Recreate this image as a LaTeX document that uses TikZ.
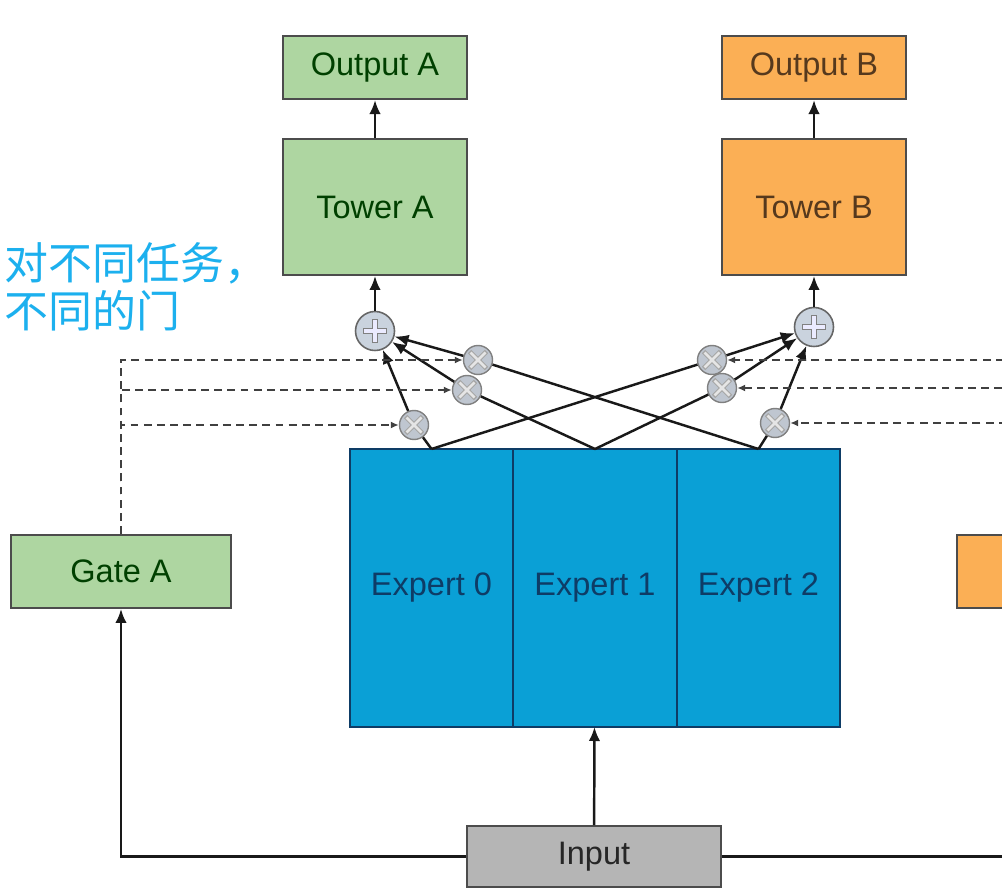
\documentclass[tikz,border=0pt]{standalone}
\usepackage{fontspec}
\setmainfont{Liberation Sans}
\newfontfamily\cjk{Noto Sans CJK SC}
\usepackage{xcolor}
\usetikzlibrary{arrows.meta, positioning}
\definecolor{boxgreen}{HTML}{AED6A1}
\definecolor{boxorange}{HTML}{FBAF55}
\definecolor{expblue}{HTML}{0AA0D6}
\definecolor{expline}{HTML}{0E3C66}
\definecolor{inpgray}{HTML}{B5B5B5}
\definecolor{notecyan}{HTML}{1CB0EE}
\definecolor{opfill}{HTML}{CAD3DE}
\tikzset{
    tsk/.style={draw=black!70, line width=1.1pt, align=center, font=\fontsize{18.5}{22}\selectfont,
                minimum width=3.68cm, inner sep=0pt},
    tska/.style={tsk, fill=boxgreen, text=green!25!black},
    tskb/.style={tsk, fill=boxorange, text=brown!45!black},
    expert/.style={draw=expline, line width=1.1pt, fill=expblue, text=expline, outer sep=0pt,
                   font=\fontsize{18.5}{22}\selectfont, minimum width=3.27cm, minimum height=5.56cm, inner sep=0pt},
    gate/.style={tsk, minimum width=4.4cm, minimum height=1.46cm},
    addop/.style={circle, draw=black!60, line width=0.9pt, fill=opfill, minimum size=7.8mm, inner sep=0pt,
                  path picture={
                      \draw[black!50, line width=3.8pt] (path picture bounding box.center) ++(-0.24,0) -- ++(0.48,0)
                          (path picture bounding box.center) ++(0,-0.24) -- ++(0,0.48);
                      \draw[white!92!blue, line width=2.2pt] (path picture bounding box.center) ++(-0.22,0) -- ++(0.44,0)
                          (path picture bounding box.center) ++(0,-0.22) -- ++(0,0.44);
                  }},
    mulop/.style={circle, draw=black!50, line width=0.8pt, fill=opfill!85!gray, minimum size=5.8mm, inner sep=0pt,
                  path picture={
                      \draw[black!35, line width=2.8pt] (path picture bounding box.center) ++(-0.17,-0.17) -- ++(0.34,0.34)
                          (path picture bounding box.center) ++(-0.17,0.17) -- ++(0.34,-0.34);
                      \draw[white!80!gray, line width=1.5pt] (path picture bounding box.center) ++(-0.15,-0.15) -- ++(0.3,0.3)
                          (path picture bounding box.center) ++(-0.15,0.15) -- ++(0.3,-0.3);
                  }},
    ln/.style={line width=1.4pt, black!90},
    arr/.style={-{Latex[length=2.8mm, width=2.3mm]}, line width=1.4pt, black!90},
    garr/.style={-{Latex[length=1.6mm, width=1.4mm]}, line width=0.9pt, black!75, dash pattern=on 4.5pt off 3pt},
    note/.style={font=\cjk\fontsize{25}{27.5}\selectfont, text=notecyan, align=left, inner sep=0pt},
}

\begin{document}
\begin{tikzpicture}[node distance=0.76cm]
    \useasboundingbox (0,0) rectangle (20.04,17.8);
    \clip (0,0) rectangle (20.04,17.8);

    \node[tska, minimum height=2.72cm] (towerA) at (7.5,13.66) {Tower A};
    \node[tska, minimum height=1.26cm, above=of towerA] (outA) {Output A};
    \node[tskb, minimum height=2.72cm] (towerB) at (16.28,13.66) {Tower B};
    \node[tskb, minimum height=1.26cm, above=of towerB] (outB) {Output B};

    \node[addop] (plusA) at (7.5,11.18) {};
    \node[addop] (plusB) at (16.28,11.26) {};

    \node[mulop] (mA0) at (8.28,9.30) {};
    \node[mulop] (mA1) at (9.34,10.0) {};
    \node[mulop] (mA2) at (9.56,10.6) {};
    \node[mulop] (mB0) at (14.24,10.6) {};
    \node[mulop] (mB1) at (14.44,10.04) {};
    \node[mulop] (mB2) at (15.5,9.34) {};

    \node[expert] (e0) at (8.63,6.04) {Expert 0};
    \node[expert, right=0pt of e0] (e1) {Expert 1};
    \node[expert, right=0pt of e1] (e2) {Expert 2};

    \node[gate, fill=boxgreen, text=green!25!black] (gateA) at (2.42,6.37) {Gate A};
    \node[gate, fill=boxorange] (gateB) at (21.34,6.37) {};
    \node[tsk, fill=inpgray, text=black!85, minimum width=5.08cm, minimum height=1.22cm] (input) at (11.88,0.67) {Input};

    \node[note, anchor=north west] (note) at (0.08,12.96) {对不同任务，\\不同的门};

    \draw[arr] (input) -- (e1);
    \draw[arr] (input.west) -| (gateA.south);
    \draw[arr] (input.east) -| (gateB.south);

    \draw[ln] (e0.north) -- (mA0);
    \draw[ln] (e1.north) -- (mA1);
    \draw[ln] (e2.north) -- (mA2);
    \draw[ln] (e0.north) -- (mB0);
    \draw[ln] (e1.north) -- (mB1);
    \draw[ln] (e2.north) -- (mB2);

    \draw[arr] (mA0) -- (plusA);
    \draw[arr] (mA1) -- (plusA);
    \draw[arr] (mA2) -- (plusA);
    \draw[arr] (mB0) -- (plusB);
    \draw[arr] (mB1) -- (plusB);
    \draw[arr] (mB2) -- (plusB);

    \draw[garr] (gateA.north) |- (mA2.west);
    \draw[garr] (gateA.north) |- (mA1.west);
    \draw[garr] (gateA.north) |- (mA0.west);
    \draw[garr] (gateB.north) |- (mB0.east);
    \draw[garr] (gateB.north) |- (mB1.east);
    \draw[garr] (gateB.north) |- (mB2.east);

    \draw[arr] (plusA) -- (towerA);
    \draw[arr] (towerA) -- (outA);
    \draw[arr] (plusB) -- (towerB);
    \draw[arr] (towerB) -- (outB);
\end{tikzpicture}
\end{document}
